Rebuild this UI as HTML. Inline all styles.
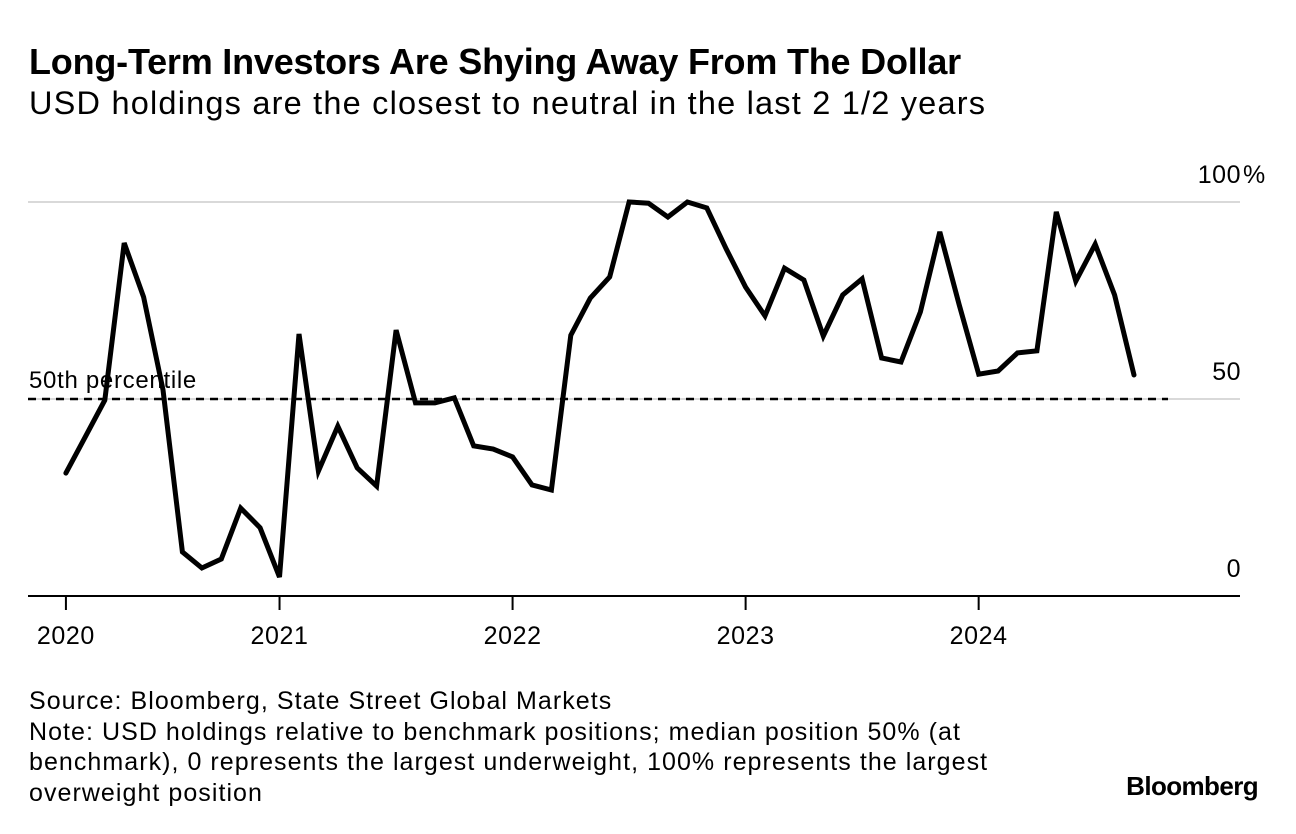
<!DOCTYPE html>
<html><head><meta charset="utf-8">
<style>
html,body{margin:0;padding:0;background:#fff;}
body{width:1296px;height:834px;overflow:hidden;position:relative;font-family:"Liberation Sans",sans-serif;color:#000;}
#title{position:absolute;left:29px;top:41px;font-size:36px;font-weight:bold;letter-spacing:-0.2px;margin:0;white-space:nowrap;}
#subtitle{position:absolute;left:29px;top:85px;font-size:32.5px;letter-spacing:1.2px;margin:0;white-space:nowrap;}
#foot{position:absolute;left:29px;top:686px;font-size:25px;letter-spacing:1.05px;line-height:30.5px;margin:0;white-space:nowrap;}
#logo{position:absolute;right:38px;top:771px;font-size:26px;font-weight:bold;letter-spacing:-0.6px;}
svg{position:absolute;left:0;top:0;}
</style></head>
<body>
<h1 id="title">Long-Term Investors Are Shying Away From The Dollar</h1>
<p id="subtitle">USD holdings are the closest to neutral in the last 2 1/2 years</p>
<svg id="chart" width="1296" height="834"></svg>
<p id="foot">Source: Bloomberg, State Street Global Markets<br>Note: USD holdings relative to benchmark positions; median position 50% (at<br>benchmark), 0 represents the largest underweight, 100% represents the largest<br>overweight position</p>
<div id="logo">Bloomberg</div>
<script>
const startMonth = 1; // Feb 2020 (months since Jan 2020)
const values = [31.2,40.4,49.7,89.6,75.9,52.3,11.2,7.1,9.4,22.3,17.3,4.8,
66.5,31.7,43.1,32.5,27.9,67.5,49,49,50.3,38.1,37.3,35.3,
28.2,26.9,66.2,75.6,81,100,99.7,96.2,100,98.5,88.1,78.4,
71.1,83.2,80.2,66,76.4,80.5,60.4,59.4,72.1,92.4,73.9,56.3,
57.1,61.7,62.2,97.5,79.9,89.3,76.4,56.1];
const yTicks = [0,50,100];
const yTickLabels = ["0","50","100"];
const xTickMonths = [1,12,24,36,48];
const xTickLabels = ["2020","2021","2022","2023","2024"];
const refValue = 50;

const NS="http://www.w3.org/2000/svg";
const svg=document.getElementById('chart');
function xs(m){return 46.5+m*19.42;}
function ys(v){return 596-v*3.94;}
function mk(tag,attrs){const e=document.createElementNS(NS,tag);for(const k in attrs)e.setAttribute(k,attrs[k]);svg.appendChild(e);return e;}

yTicks.forEach((t,i)=>{
  if(t>0){
    const g=mk('line',{x1:28,x2:1240,y1:ys(t),y2:ys(t),stroke:'#d9d9d9','stroke-width':2});
    
    
  }
  const tx=mk('text',{x:1241,y:ys(t)-19,'text-anchor':'end','font-size':25,'letter-spacing':'0.5','font-family':'Liberation Sans, sans-serif'});
  tx.textContent=yTickLabels[i];
  
  
  if(i===yTicks.length-1){
    const pc=mk('text',{x:1243,y:ys(t)-19,'font-size':25,'font-family':'Liberation Sans, sans-serif'});
    pc.textContent='%';
    
    
  }
});
const ax=mk('line',{x1:28,x2:1240,y1:596,y2:596,stroke:'#000','stroke-width':2});


xTickMonths.forEach((m,i)=>{
  const tk=mk('line',{x1:xs(m),x2:xs(m),y1:596,y2:610,stroke:'#000','stroke-width':2});
  
  
  const tl=mk('text',{x:xs(m),y:644,'text-anchor':'middle','font-size':25,'letter-spacing':'0.6','font-family':'Liberation Sans, sans-serif'});
  tl.textContent=xTickLabels[i];
  
  
});
const ref=mk('line',{x1:28,x2:1168,y1:ys(refValue),y2:ys(refValue),stroke:'#000','stroke-width':2.5,'stroke-dasharray':'8,6'});


const rl=mk('text',{x:29,y:ys(refValue)-11,'font-size':24,'letter-spacing':'0.7','font-family':'Liberation Sans, sans-serif'});
rl.textContent='50th percentile';


const pts=values.map((v,i)=>xs(startMonth+i).toFixed(1)+','+ys(v).toFixed(1)).join(' ');
const ln=mk('polyline',{points:pts,fill:'none',stroke:'#000','stroke-width':5,'stroke-linejoin':'miter','stroke-linecap':'round'});


</script>
</body></html>
